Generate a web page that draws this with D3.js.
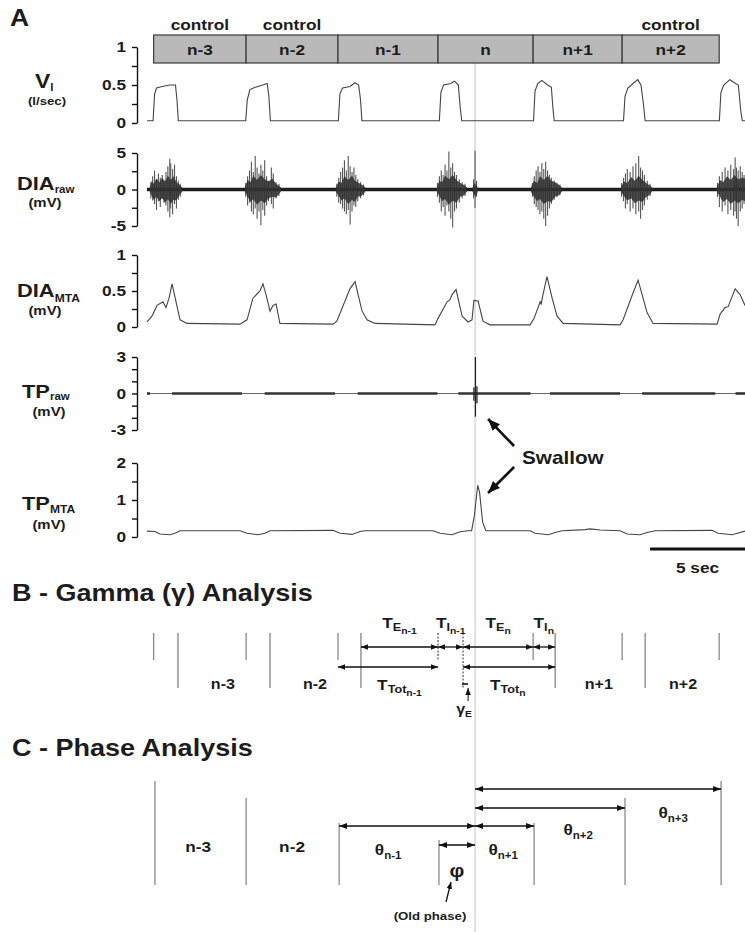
<!DOCTYPE html>
<html>
<head>
<meta charset="utf-8">
<script src="https://cdn.jsdelivr.net/npm/d3@7/dist/d3.min.js"></script>
<style>
html,body{margin:0;padding:0;background:#fff;}
svg{display:block;font-family:"Liberation Sans",Arial,Helvetica,sans-serif;font-weight:bold;}
text{fill:#1c1c1c;}
</style>
</head>
<body>
<svg id="fig" width="745" height="932"></svg>
<script>
// ================= DATA =================
const timeMax = 31.5;                       // seconds shown
const cycleOnsets = [0.35, 5.22, 10.06, 15.33, 20.34, 25.03, 30.14];
const inspEnds    = [1.63, 6.48, 11.27, 16.65, 21.5, 26.24];
const swallowT = 17.28;
const cycleNames = ["n-3", "n-2", "n-1", "n", "n+1", "n+2"];
const controlCycles = ["n-3", "n-2", "n+2"];
const scaleBarSec = 5;

// tick values / labels
const viTicks = [0, 0.25, 0.5, 0.75, 1],          viLabels = [0, 0.5, 1];
const diaRawTicks = [-5, -2.5, 0, 2.5, 5],        diaRawLabels = [-5, 0, 5];
const diaMtaTicks = [0, 0.25, 0.5, 0.75, 1],      diaMtaLabels = [0, 0.5, 1];
const tpRawTicks = [-3, -2, -1, 0, 1, 2, 3],      tpRawLabels = [-3, 0, 3];
const tpMtaTicks = [0, 0.5, 1, 1.5, 2],           tpMtaLabels = [0, 1, 2];

// V_I (l/sec) [t, value]
const viData = [
  [0,0.03],[0.32,0.03],[0.4,0.38],[0.5,0.46],[0.8,0.48],[1.2,0.5],[1.5,0.5],[1.58,0.3],[1.65,0.03],
  [5.2,0.03],[5.28,0.3],[5.42,0.44],[5.7,0.47],[6.1,0.5],[6.33,0.52],[6.42,0.35],[6.5,0.03],
  [10.08,0.03],[10.16,0.38],[10.3,0.46],[10.7,0.48],[10.95,0.53],[11.15,0.5],[11.25,0.3],[11.32,0.03],
  [15.4,0.03],[15.48,0.4],[15.62,0.5],[16.0,0.52],[16.2,0.55],[16.4,0.5],[16.5,0.2],[16.58,0.03],
  [20.36,0.03],[20.44,0.42],[20.58,0.52],[20.8,0.56],[21.1,0.5],[21.3,0.47],[21.38,0.2],[21.45,0.03],
  [25.1,0.03],[25.18,0.35],[25.33,0.46],[25.6,0.52],[25.85,0.57],[26.02,0.5],[26.15,0.25],[26.24,0.03],
  [30.15,0.03],[30.23,0.4],[30.38,0.5],[30.7,0.57],[31.0,0.52],[31.15,0.5],[31.28,0.15],[31.36,0.03],[31.5,0.03]
];

// DIA raw: dense burst cores [t, high, low] (mV), one list per burst
const diaCore = [
  [[0.15,0.3,-0.3],[0.25,1.2,-0.9],[0.35,0.8,-1.4],[0.5,1.5,-1.0],[0.65,1.0,-1.6],[0.8,1.6,-1.2],[0.95,1.1,-1.8],[1.1,1.9,-1.3],[1.25,1.3,-2.0],[1.4,1.8,-1.4],[1.55,1.0,-1.5],[1.7,0.7,-0.8],[1.85,0.3,-0.3]],
  [[5.15,0.3,-0.3],[5.3,1.3,-1.0],[5.45,1.0,-1.7],[5.6,1.9,-1.3],[5.8,1.3,-2.1],[6.0,2.0,-1.5],[6.2,1.4,-1.9],[6.4,1.1,-1.2],[6.6,1.5,-1.0],[6.8,0.8,-1.1],[7.05,0.3,-0.3]],
  [[9.95,0.3,-0.3],[10.1,1.1,-0.9],[10.25,0.9,-1.5],[10.4,1.8,-1.2],[10.6,1.3,-2.0],[10.8,1.9,-1.4],[10.95,1.2,-1.7],[11.1,1.0,-1.0],[11.3,0.7,-0.9],[11.5,0.3,-0.3]],
  [[15.28,0.3,-0.3],[15.4,1.2,-0.9],[15.55,1.0,-1.6],[15.7,1.9,-1.3],[15.9,1.4,-2.1],[16.1,2.0,-1.5],[16.3,1.3,-1.8],[16.5,0.9,-1.0],[16.7,0.6,-0.8],[16.85,0.3,-0.3]],
  [[17.15,0.3,-0.3],[17.25,0.9,-0.8],[17.32,0.6,-1.0],[17.42,0.3,-0.3]],
  [[20.23,0.3,-0.3],[20.38,1.2,-1.0],[20.55,0.9,-1.6],[20.7,1.8,-1.3],[20.9,1.3,-2.0],[21.1,1.9,-1.6],[21.3,1.2,-1.7],[21.5,1.0,-1.0],[21.7,0.6,-0.8],[21.85,0.3,-0.3]],
  [[24.97,0.3,-0.3],[25.12,1.1,-0.9],[25.3,0.9,-1.5],[25.5,1.7,-1.2],[25.7,1.2,-1.9],[25.9,1.9,-1.5],[26.1,1.3,-1.7],[26.3,0.9,-1.0],[26.45,0.6,-0.8],[26.6,0.3,-0.3]],
  [[30.03,0.3,-0.3],[30.18,1.3,-1.0],[30.35,1.0,-1.7],[30.55,1.8,-1.3],[30.75,1.3,-2.0],[30.95,2.0,-1.5],[31.15,1.4,-1.9],[31.35,1.6,-1.4],[31.5,1.5,-1.6]]
];
// DIA raw spikes [t, high, low] (mV)
const diaSpikes = [
  [0.2,1.0,-1.2],[0.3,1.8,-1.5],[0.4,2.6,-2.0],[0.5,1.4,-2.8],[0.6,2.2,-1.6],[0.7,1.6,-2.4],[0.8,2.0,-1.2],[0.9,1.2,-1.8],
  [1.0,2.4,-2.2],[1.1,3.2,-3.0],[1.2,4.2,-3.8],[1.25,3.6,-2.6],[1.35,2.8,-3.4],[1.45,3.4,-2.0],[1.55,1.8,-2.6],[1.65,1.2,-1.4],[1.75,0.8,-1.0],
  [5.2,0.9,-1.0],[5.3,1.8,-2.2],[5.4,2.6,-1.8],[5.5,3.8,-3.0],[5.6,2.4,-3.4],[5.7,4.6,-2.6],[5.8,3.0,-4.0],[5.9,2.2,-3.0],
  [6.0,3.4,-4.9],[6.1,2.6,-2.8],[6.2,4.0,-3.6],[6.3,1.8,-2.2],[6.4,1.2,-1.6],[6.55,3.0,-2.0],[6.65,2.2,-2.6],[6.8,1.0,-1.2],[6.95,0.8,-0.9],
  [10.0,0.8,-1.0],[10.1,1.6,-1.8],[10.2,2.4,-2.0],[10.3,3.0,-2.6],[10.4,4.0,-3.0],[10.5,2.6,-3.4],[10.6,4.6,-2.8],[10.7,3.2,-4.8],
  [10.8,2.4,-3.0],[10.9,3.0,-2.2],[11.0,2.0,-2.4],[11.1,1.4,-1.6],[11.25,1.0,-1.2],[11.4,0.7,-0.8],
  [15.3,0.9,-1.0],[15.4,1.8,-1.8],[15.5,2.6,-3.0],[15.6,2.0,-2.4],[15.7,3.4,-3.6],[15.8,2.6,-2.2],[15.9,5.2,-3.0],[16.0,3.0,-4.0],
  [16.1,3.6,-5.2],[16.2,2.4,-3.0],[16.3,2.0,-2.6],[16.45,1.4,-1.8],[16.6,1.0,-1.2],[16.75,0.8,-0.9],
  [17.2,1.4,-1.2],[17.28,5.3,-2.5],[17.36,1.2,-1.0],
  [20.3,0.9,-1.0],[20.4,1.8,-2.0],[20.5,2.6,-2.4],[20.6,3.2,-2.8],[20.7,2.4,-3.4],[20.8,3.6,-3.0],[20.9,2.8,-4.0],[21.0,3.8,-5.0],
  [21.1,2.6,-3.6],[21.2,2.0,-2.6],[21.3,1.6,-2.0],[21.45,1.2,-1.4],[21.6,0.9,-1.0],[21.75,0.7,-0.8],
  [25.0,0.9,-1.0],[25.1,1.6,-1.6],[25.2,2.2,-2.6],[25.3,2.8,-2.0],[25.45,2.4,-3.0],[25.6,3.2,-2.6],[25.75,3.6,-3.4],[25.9,4.6,-3.0],
  [26.0,3.0,-4.0],[26.1,2.6,-2.8],[26.2,2.0,-2.2],[26.35,1.2,-1.4],[26.5,0.8,-0.9],
  [30.05,0.9,-1.0],[30.15,1.8,-2.4],[30.3,2.4,-3.0],[30.45,3.0,-2.2],[30.6,2.6,-3.4],[30.75,3.4,-2.8],[30.9,2.8,-3.6],[30.98,4.4,-3.0],
  [31.05,3.0,-4.0],[31.14,2.6,-5.0],[31.25,3.2,-3.0],[31.35,2.4,-2.6],[31.45,2.0,-2.0]
];

// DIA MTA (mV) [t, value]
const diaMtaData = [
  [0,0.07],[0.26,0.15],[0.53,0.3],[0.84,0.35],[1.0,0.27],[1.16,0.4],[1.32,0.6],[1.53,0.35],[1.74,0.1],[2.11,0.05],
  [4.9,0.04],[5.27,0.1],[5.58,0.4],[5.95,0.5],[6.11,0.6],[6.27,0.45],[6.48,0.22],[6.64,0.3],[6.8,0.32],[7.0,0.05],
  [9.8,0.04],[10.0,0.08],[10.69,0.53],[10.96,0.63],[11.12,0.45],[11.33,0.22],[11.59,0.1],[12.0,0.05],
  [15.17,0.03],[15.33,0.12],[15.81,0.35],[15.96,0.38],[16.07,0.45],[16.28,0.52],[16.6,0.15],[16.91,0.07],
  [17.12,0.1],[17.22,0.37],[17.44,0.36],[17.7,0.08],[18.07,0.03],
  [20.18,0.03],[20.39,0.12],[20.71,0.35],[20.76,0.32],[20.86,0.45],[21.07,0.7],[21.34,0.4],[21.6,0.15],[21.92,0.05],
  [24.92,0.03],[25.08,0.1],[25.61,0.48],[25.87,0.65],[26.08,0.45],[26.34,0.2],[26.66,0.05],
  [30.03,0.04],[30.19,0.18],[30.45,0.27],[30.61,0.28],[30.98,0.53],[31.24,0.45],[31.5,0.3]
];

// TP raw: noisy expiratory segments [start, end] and swallow spikes [t, high, low]
const tpNoise = [[0,0.16],[1.32,5.0],[6.2,9.9],[11.1,15.3],[16.4,20.2],[21.23,24.92],[26.08,29.93],[31.0,31.5]];
const tpSpikes = [[17.22,0.5,-0.6],[17.3,3.0,-1.9],[17.38,0.6,-0.8]];

// TP MTA (mV) [t, value]
const tpMtaData = [
  [0,0.16],[0.42,0.15],[0.68,0.08],[1.21,0.06],[1.48,0.1],[1.74,0.17],[4.9,0.17],[5.27,0.1],[5.85,0.06],[6.22,0.1],[6.48,0.17],
  [9.8,0.18],[10.17,0.1],[10.8,0.07],[11.22,0.15],[11.49,0.17],[15.07,0.17],[15.44,0.1],[16.07,0.06],[16.49,0.14],[16.91,0.17],
  [17.1,0.17],[17.25,0.6],[17.42,1.4],[17.52,1.2],[17.68,0.4],[17.85,0.17],
  [20.18,0.17],[20.44,0.1],[21.13,0.06],[21.5,0.12],[21.86,0.17],[23.08,0.2],[23.34,0.22],[23.87,0.19],
  [24.92,0.17],[25.29,0.08],[25.97,0.06],[26.34,0.12],[26.77,0.17],[29.77,0.18],[30.08,0.1],[30.82,0.06],[31.24,0.12],[31.5,0.16]
];

// Panel B – gamma analysis intervals [phase, cycle, from, to, labelT]
const gammaUpper = [["E","n-1",11.27,15.33,13.3],["I","n-1",15.33,16.65,16.0],["E","n",16.65,20.34,18.5],["I","n",20.34,21.5,20.9]];
const gammaLower = [["Tot","n-1",10.06,15.33,13.3],["Tot","n",16.65,21.5,19.0]];
const gammaCycleLabels = [["n-3",4.0],["n-2",8.85],["n+1",23.8],["n+2",28.24]];

// Panel C – phase analysis
const phaseLinesT = [0.42, 5.22, 10.12, 15.38, 20.39, 25.18, 30.24];
const thetaArrows = [["n-1",10.12,17.28,12.7],["n+1",17.28,20.39,18.76],["n+2",17.28,25.18,22.71],["n+3",17.28,30.24,27.72]];
const phiArrow = [15.38, 17.28];
const phaseCycleLabels = [["n-3",2.69],["n-2",7.64]];

// ================= DRAWING =================
const SX = 1.15;
const svg = d3.select("#fig");
const x = d3.scaleLinear().domain([0, timeMax]).range([147, 745]);
const defs = svg.append("defs");
function marker(id, L, W) {
  defs.append("marker").attr("id", id).attr("viewBox", `0 0 ${L} ${W}`)
    .attr("refX", L).attr("refY", W / 2).attr("markerWidth", L).attr("markerHeight", W)
    .attr("markerUnits", "userSpaceOnUse").attr("orient", "auto-start-reverse")
    .append("path").attr("d", `M0,0L${L},${W / 2}L0,${W}Z`).attr("fill", "#111");
}
marker("ahS", 7, 5.5);
marker("ahM", 8, 6);
marker("ahL", 12, 10);

function txt(px, py, parts, anchor) {
  const t = svg.append("text")
    .attr("transform", `translate(${px},${py}) scale(${SX},1)`)
    .attr("text-anchor", anchor || "start");
  parts.forEach(p => t.append("tspan").attr("font-size", p[1]).attr("dy", p[2] || 0).text(p[0]));
  return t;
}
function arrow(x1, y1, x2, y2, m, both, w) {
  const l = svg.append("line").attr("x1", x1).attr("y1", y1).attr("x2", x2).attr("y2", y2)
    .attr("stroke", "#111").attr("stroke-width", w || 1.3).attr("marker-end", `url(#${m})`);
  if (both) l.attr("marker-start", `url(#${m})`);
  return l;
}

// swallow guide line
svg.append("line").attr("x1", x(swallowT)).attr("x2", x(swallowT)).attr("y1", 63).attr("y2", 932)
  .attr("stroke", "#c4c4c4").attr("stroke-width", 1);

// ---- Panel A ----
txt(10, 26, [["A", 23]]);
const boxTop = 35, boxBot = 63;
cycleNames.forEach((nm, i) => {
  const x0 = x(cycleOnsets[i]), x1 = x(cycleOnsets[i + 1]);
  svg.append("rect").attr("x", x0).attr("y", boxTop).attr("width", x1 - x0).attr("height", boxBot - boxTop)
    .attr("fill", "#b9b9b9").attr("stroke", "#3a3a3a").attr("stroke-width", 1.2);
  txt((x0 + x1) / 2, 55, [[nm, 15]], "middle");
  if (controlCycles.includes(nm)) txt((x0 + x1) / 2, 30, [["control", 15]], "middle");
});

const rows = [
  { ticks: viTicks, labels: viLabels, domain: [0, 1], range: [123, 47] },
  { ticks: diaRawTicks, labels: diaRawLabels, domain: [-5, 5], range: [226, 153] },
  { ticks: diaMtaTicks, labels: diaMtaLabels, domain: [0, 1], range: [327, 255] },
  { ticks: tpRawTicks, labels: tpRawLabels, domain: [-3, 3], range: [430, 357] },
  { ticks: tpMtaTicks, labels: tpMtaLabels, domain: [0, 2], range: [537, 463] }
];
rows.forEach(r => {
  r.y = d3.scaleLinear().domain(r.domain).range(r.range);
  const ax = d3.axisLeft(r.y).tickValues(r.ticks).tickSize(5).tickSizeOuter(0)
    .tickFormat(v => r.labels.includes(v) ? String(v) : "");
  const g = svg.append("g").attr("transform", "translate(137,0)").call(ax)
    .attr("font-size", null).attr("font-family", null);
  g.select(".domain").attr("stroke", "#111").attr("stroke-width", 1.4);
  g.selectAll(".tick line").attr("stroke", "#111").attr("stroke-width", 1.4);
  g.selectAll(".tick text").attr("font-size", 15).attr("fill", "#1c1c1c")
    .attr("x", -11 / SX).attr("transform", `scale(${SX},1)`);
});

// y labels
txt(35, 88, [["V", 20], ["I", 10, 3]]);
txt(47, 105, [["(l/sec)", 11.5]], "middle");
txt(17, 190, [["DIA", 19], ["raw", 10, 3]]);
txt(45, 207, [["(mV)", 13]], "middle");
txt(17, 297, [["DIA", 19], ["MTA", 10.5, 5]]);
txt(45, 315, [["(mV)", 13]], "middle");
txt(22, 398, [["TP", 19], ["raw", 10, 2]]);
txt(49, 416, [["(mV)", 13]], "middle");
txt(22, 510, [["TP", 19], ["MTA", 10.5, 3]]);
txt(49, 529, [["(mV)", 13]], "middle");

// V_I trace
const line = (r) => d3.line().x(d => x(d[0])).y(d => r.y(d[1]));
svg.append("path").datum(viData).attr("d", line(rows[0])).attr("fill", "none")
  .attr("stroke", "#444").attr("stroke-width", 1.1);

// DIA raw
const yd = rows[1].y;
svg.append("line").attr("x1", x(0)).attr("x2", x(timeMax)).attr("y1", yd(0)).attr("y2", yd(0))
  .attr("stroke", "#1e1e1e").attr("stroke-width", 3.5);
svg.append("g").selectAll("line").data(diaSpikes).join("line")
  .attr("x1", d => x(d[0])).attr("x2", d => x(d[0])).attr("y1", d => yd(d[1])).attr("y2", d => yd(d[2]))
  .attr("stroke", "#555").attr("stroke-width", 1.1);
const coreArea = d3.area().x(d => x(d[0])).y0(d => yd(d[2])).y1(d => yd(d[1]));
svg.append("g").selectAll("path").data(diaCore).join("path")
  .attr("d", coreArea).attr("fill", "#2e2e2e").attr("opacity", 0.85);

// DIA MTA
svg.append("path").datum(diaMtaData).attr("d", line(rows[2])).attr("fill", "none")
  .attr("stroke", "#444").attr("stroke-width", 1.1);

// TP raw
const yt = rows[3].y;
svg.append("line").attr("x1", x(0)).attr("x2", x(timeMax)).attr("y1", yt(0)).attr("y2", yt(0))
  .attr("stroke", "#666").attr("stroke-width", 1);
svg.append("g").selectAll("line").data(tpNoise).join("line")
  .attr("x1", d => x(d[0])).attr("x2", d => x(d[1])).attr("y1", yt(0)).attr("y2", yt(0))
  .attr("stroke", "#333").attr("stroke-width", 2.6);
svg.append("g").selectAll("line").data(tpSpikes).join("line")
  .attr("x1", d => x(d[0])).attr("x2", d => x(d[0])).attr("y1", d => yt(d[1])).attr("y2", d => yt(d[2]))
  .attr("stroke", "#222").attr("stroke-width", 1.3);

// TP MTA
svg.append("path").datum(tpMtaData).attr("d", line(rows[4])).attr("fill", "none")
  .attr("stroke", "#444").attr("stroke-width", 1.1);

// Swallow annotation
const sx = x(swallowT);
txt(sx + 47, 464, [["Swallow", 18]]);
arrow(sx + 39, 446, sx + 13, 419, "ahL", false, 2.6);
arrow(sx + 39, 467, sx + 13, 493, "ahL", false, 2.6);

// scale bar
svg.append("line").attr("x1", x(timeMax - scaleBarSec)).attr("x2", x(timeMax)).attr("y1", 549).attr("y2", 549)
  .attr("stroke", "#111").attr("stroke-width", 3);
txt((x(timeMax - scaleBarSec) + x(timeMax)) / 2, 573, [["5 sec", 15]], "middle");

// ---- Panel B ----
txt(12, 601, [["B - Gamma (γ) Analysis", 23.5]]);
const bTop = 633, bShort = 660, bLong = 688;
cycleOnsets.forEach((t, i) => {
  const l = svg.append("line").attr("x1", x(t)).attr("x2", x(t)).attr("y1", bTop).attr("y2", bShort)
    .attr("stroke", "#8a8a8a").attr("stroke-width", 1.3);
  if (i === 3) l.attr("stroke-dasharray", "2,1.5").attr("stroke", "#555");
});
inspEnds.forEach((t, i) => {
  const l = svg.append("line").attr("x1", x(t)).attr("x2", x(t)).attr("y1", bTop).attr("y2", bLong)
    .attr("stroke", "#7a7a7a").attr("stroke-width", 1.2);
  if (i === 3) l.attr("stroke-dasharray", "2,1.5").attr("stroke", "#555");
});
gammaUpper.forEach(d => {
  arrow(x(d[2]), 647, x(d[3]), 647, "ahS", true);
  txt(x(d[4]), 628, [["T", 15], [d[0], 11, 3], [d[1], 9, 3]], "middle");
});
gammaLower.forEach(d => {
  arrow(x(d[2]), 667, x(d[3]), 667, "ahS", true);
  txt(x(d[4]), 690, [["T", 15], [d[0], 11, 3], [d[1], 9, 3]], "middle");
});
gammaCycleLabels.forEach(d => txt(x(d[1]), 689, [[d[0], 14]], "middle"));
// gamma_E marker
const ge = x(gammaLower[1][2]);
svg.append("line").attr("x1", ge - 1).attr("x2", ge + 5).attr("y1", 684).attr("y2", 684).attr("stroke", "#111").attr("stroke-width", 1.6);
arrow(ge + 5, 701, ge + 5, 688, "ahS", false, 1);
txt(ge + 1, 714, [["γ", 14], ["E", 9, 3]], "middle");

// ---- Panel C ----
txt(12, 756, [["C - Phase Analysis", 23.5]]);
const cTops = [781, 798, 823, 840, 823, 798, 781];
const cBottom = 885;
phaseLinesT.forEach((t, i) => {
  svg.append("line").attr("x1", x(t)).attr("x2", x(t)).attr("y1", cTops[i]).attr("y2", cBottom)
    .attr("stroke", "#8a8a8a").attr("stroke-width", 1.3);
});
const thetaY = { "n-1": 826, "n+1": 826, "n+2": 808, "n+3": 789 };
const thetaLY = { "n-1": 855, "n+1": 855, "n+2": 835, "n+3": 818 };
thetaArrows.forEach(d => {
  arrow(x(d[1]), thetaY[d[0]], x(d[2]), thetaY[d[0]], "ahM", true, 1.4);
  txt(x(d[3]), thetaLY[d[0]], [["θ", 15], [d[0], 10, 4]], "middle");
});
arrow(x(phiArrow[0]), 845, x(phiArrow[1]), 845, "ahM", true, 1.4);
txt((x(phiArrow[0]) + x(phiArrow[1])) / 2, 877, [["φ", 18]], "middle");
arrow(x(phiArrow[0]) + 7, 902, x(phiArrow[0]) + 12, 882, "ahS", false, 1.3);
txt(x(phiArrow[0]) - 9, 920, [["(Old phase)", 11.5]], "middle");
phaseCycleLabels.forEach(d => txt(x(d[1]), 852, [[d[0], 15]], "middle"));
</script>
</body>
</html>
